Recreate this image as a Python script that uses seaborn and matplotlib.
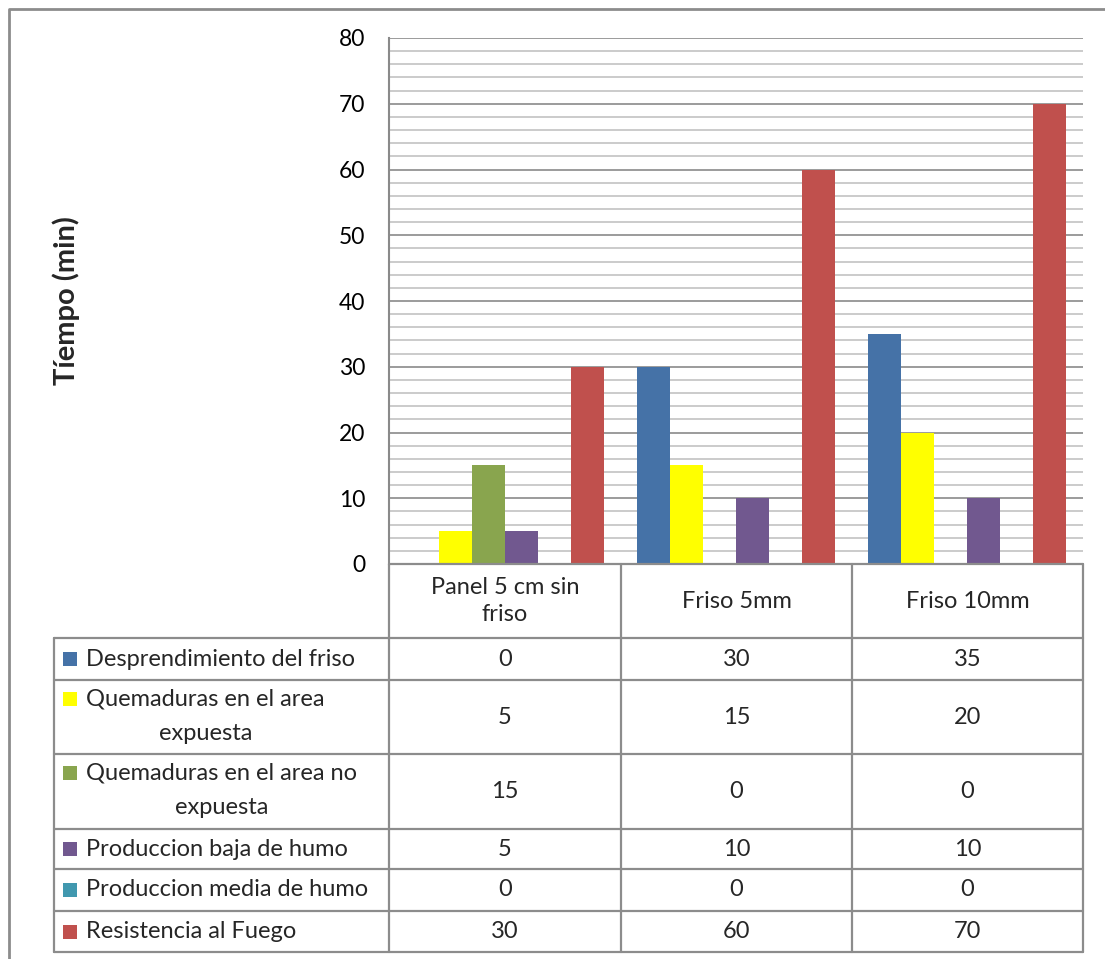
import matplotlib
matplotlib.use("Agg")
import matplotlib.pyplot as plt
from matplotlib.lines import Line2D
from matplotlib.patches import Rectangle
from matplotlib.ticker import MultipleLocator
import numpy as np
import pandas as pd
import seaborn as sns

# ---- data ----
categories = ["Panel 5 cm sin\nfriso", "Friso 5mm", "Friso 10mm"]
series = [
    "Desprendimiento del friso",
    "Quemaduras en el area expuesta",
    "Quemaduras en el area no expuesta",
    "Produccion baja de humo",
    "Produccion media de humo",
    "Resistencia al Fuego",
]
series_rows = [
    ["Desprendimiento del friso"],
    ["Quemaduras en el area", "expuesta"],
    ["Quemaduras en el area no", "expuesta"],
    ["Produccion baja de humo"],
    ["Produccion media de humo"],
    ["Resistencia al Fuego"],
]
desprendimiento = [0, 30, 35]
quem_expuesta = [5, 15, 20]
quem_no_expuesta = [15, 0, 0]
humo_baja = [5, 10, 10]
humo_media = [0, 0, 0]
resistencia = [30, 60, 70]
values = [desprendimiento, quem_expuesta, quem_no_expuesta, humo_baja, humo_media, resistencia]
colors = ["#4572A7", "#FFFF00", "#89A54E", "#71588F", "#4198AF", "#C0504D"]

y_label = "Tíempo (min)"

sns.set_theme(style="white")
FONT = ["Lato", "DejaVu Sans"]
plt.rcParams["font.family"] = FONT

W, H = 1105, 959
fig = plt.figure(figsize=(W / 100, H / 100), dpi=100)

# pixel -> figure fraction helpers
def fx(px):
    return px / W

def fy(py):
    return 1 - py / H

x0, x1 = 389, 1083
y_top, y_axis = 38, 564
ax = fig.add_axes([fx(x0), fy(y_axis), fx(x1) - fx(x0), fy(y_top) - fy(y_axis)])

df = pd.DataFrame(
    [(c, s, v) for s, vals in zip(series, values) for c, v in zip(categories, vals)],
    columns=["categoria", "serie", "valor"],
)
sns.barplot(
    data=df, x="categoria", y="valor", hue="serie", order=categories,
    hue_order=series, palette=colors, width=6 / 7, linewidth=0,
    saturation=1, ax=ax, legend=False,
)
ax.set_xlim(-0.5, 2.5)
ax.set_ylim(0, 80)
ax.yaxis.set_major_locator(MultipleLocator(10))
ax.yaxis.set_minor_locator(MultipleLocator(2))
ax.grid(which="major", axis="y", color="#8A8A8A", linewidth=1.2, zorder=0)
ax.grid(which="minor", axis="y", color="#C2C2C2", linewidth=1.2, zorder=0)
ax.set_axisbelow(True)
ax.set_xticks([])
ax.set_xlabel("")
ax.set_ylabel("")
ax.tick_params(axis="y", which="both", length=0, pad=17, labelsize=16.5, labelcolor="black")
for side in ["top", "right", "bottom"]:
    ax.spines[side].set_visible(False)
ax.spines["left"].set_color("#8A8A8A")
ax.spines["left"].set_linewidth(1.5)

fig.text(fx(66), fy(301), y_label, rotation=90, ha="center", va="center",
         fontsize=21, fontweight="bold", family=FONT)

# ---- data table beneath the axes ----
line_kw = dict(color="#8C8C8C", linewidth=1.6, transform=fig.transFigure)
col_x = [54, 389, 621, 852, 1083]
row_y = [638, 680, 754, 829, 869, 911, 952]

def hline(xa, xb, y):
    fig.add_artist(Line2D([fx(xa), fx(xb)], [fy(y), fy(y)], **line_kw))

def vline(x, ya, yb):
    fig.add_artist(Line2D([fx(x), fx(x)], [fy(ya), fy(yb)], **line_kw))

hline(389, 1083, y_axis)
for y in row_y:
    hline(54, 1083, y)
for x in col_x[1:]:
    vline(x, y_axis, row_y[-1])
vline(54, row_y[0], row_y[-1])

tsize = 17
# category headers
for i, cat in enumerate(categories):
    cx = (col_x[i + 1] + col_x[i + 2]) / 2
    fig.text(fx(cx), fy((y_axis + row_y[0]) / 2), cat, ha="center", va="center",
             fontsize=tsize, linespacing=1.3, family=FONT)

renderer = fig.canvas.get_renderer()
for r, (lines, vals, col) in enumerate(zip(series_rows, values, colors)):
    ya, yb = row_y[r], row_y[r + 1]
    ymid = (ya + yb) / 2
    # legend key
    key_top = ymid - 7 if len(lines) == 1 else ya + 12
    fig.add_artist(Rectangle((fx(63), fy(key_top + 14)), fx(14), fy(0) - fy(14),
                             transform=fig.transFigure, facecolor=col, edgecolor="none"))
    if len(lines) == 1:
        fig.text(fx(86), fy(ymid), lines[0], ha="left", va="center",
                 fontsize=tsize, family=FONT)
    else:
        t1 = fig.text(fx(86), fy(ya + 19), lines[0], ha="left", va="center",
                      fontsize=tsize, family=FONT)
        bb = t1.get_window_extent(renderer)
        cx = (bb.x0 + bb.x1) / 2 / fig.dpi / fig.get_figwidth()
        fig.text(cx, fy(ya + 53), lines[1], ha="center", va="center",
                 fontsize=tsize, family=FONT)
    for i, v in enumerate(vals):
        cx = (col_x[i + 1] + col_x[i + 2]) / 2
        fig.text(fx(cx), fy(ymid), f"{v}", ha="center", va="center",
                 fontsize=tsize, family=FONT)

# chart frame
fig.add_artist(Line2D([fx(9), fx(9), fx(W + 5)], [fy(H + 5), fy(9), fy(9)],
                      color="#8C8C8C", linewidth=2, transform=fig.transFigure))

fig.savefig("out.png", dpi=100, facecolor="white")
